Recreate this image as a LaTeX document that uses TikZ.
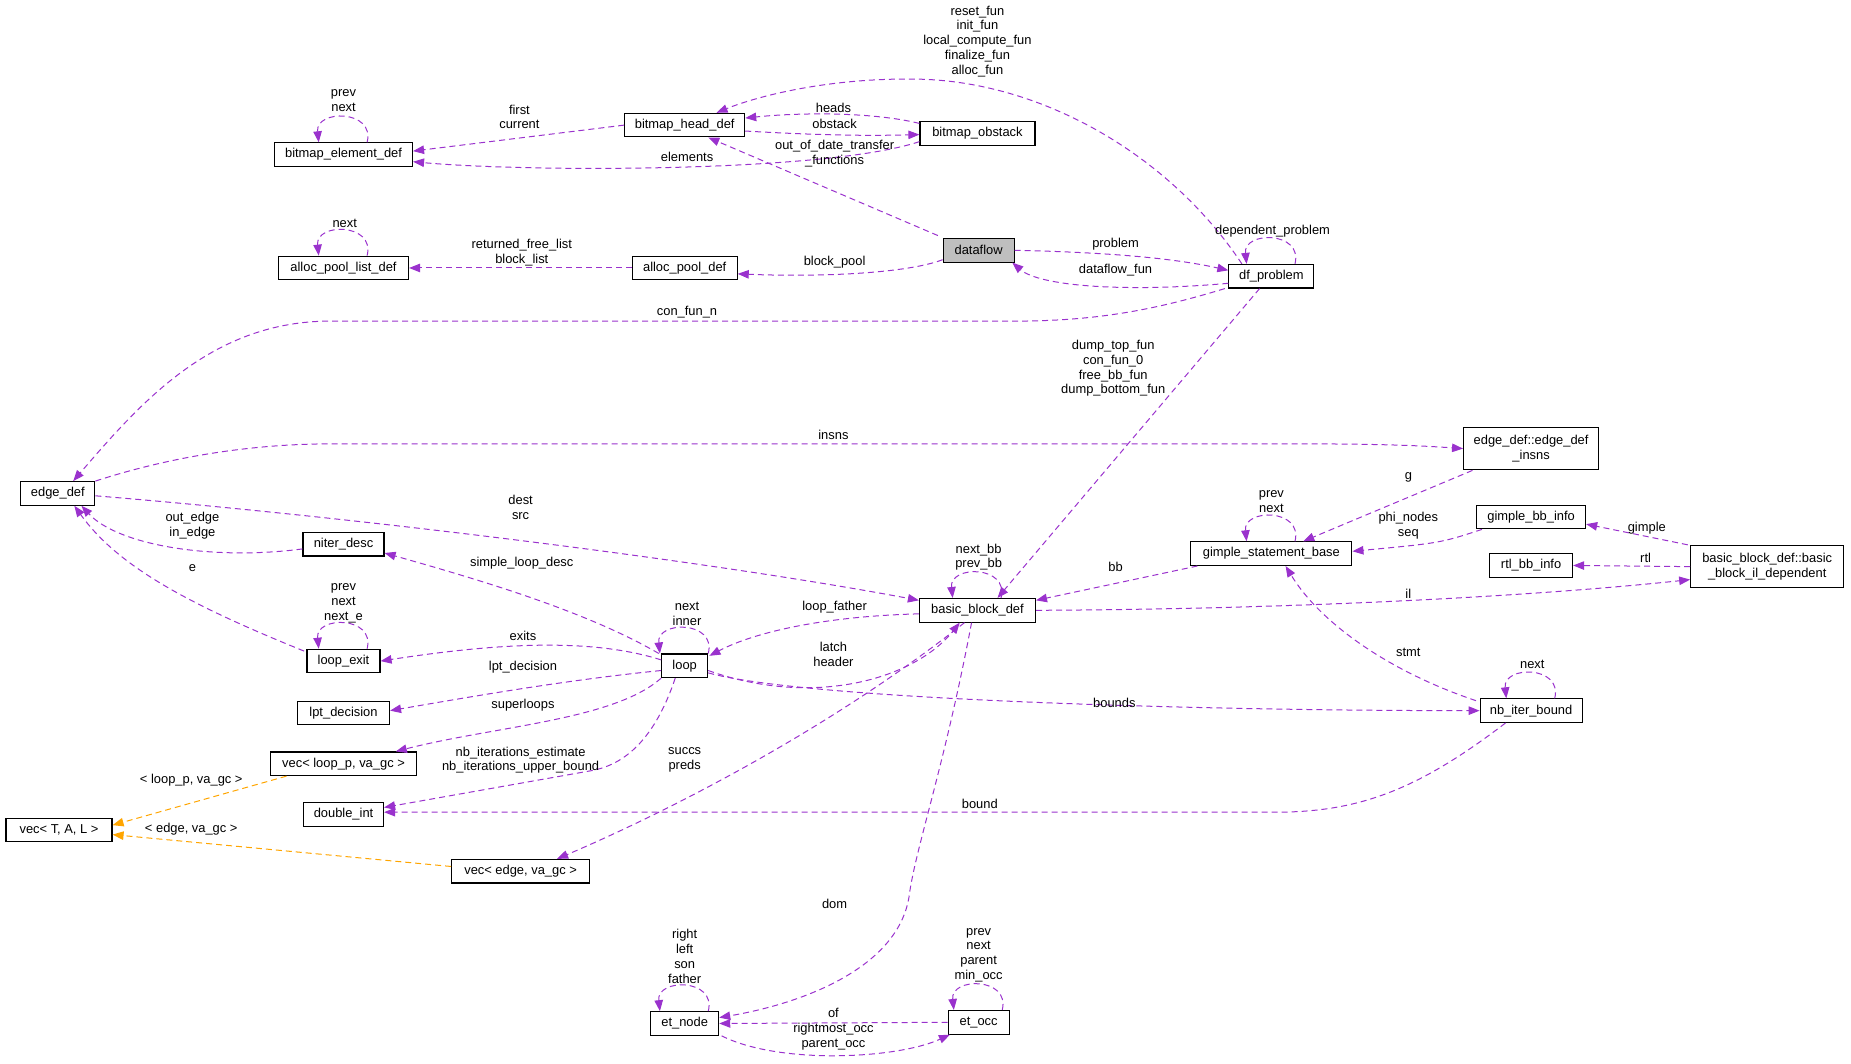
\documentclass[tikz,border=0pt]{standalone}
\usepackage{fontspec}
\setmainfont{Liberation Sans}
\usetikzlibrary{arrows.meta,calc}
\definecolor{rel}{HTML}{9A32CD}
\definecolor{tpl}{HTML}{FFA500}
\definecolor{cur}{HTML}{BFBFBF}
\begin{document}
\begin{tikzpicture}[x=1.1805pt,y=-1.1805pt,
  every node/.style={font=\fontsize{12.9}{14.8}\selectfont, inner sep=1pt},
  cls/.style={draw=black, line width=1.1pt, minimum height=23.6pt, fill=white, align=center},
  lbl/.style={align=center},
  rel/.style={draw=rel, line width=1pt, dash pattern=on 6pt off 4pt, -{Triangle[length=11pt,width=8.5pt]}},
  tplrel/.style={rel, draw=tpl, -{Triangle[length=11pt,width=8.5pt,fill=tpl]}}]
\useasboundingbox (0,0) rectangle (1568,901);
\newcommand\selfloop[1]{\draw[rel] ($(#1.north)+(20,0)$) .. controls ($(#1.north)+(27,-28)$) and ($(#1.north)+(-24,-28)$) .. ($(#1.north)+(-21,0)$);}
% nodes
\node[cls, minimum width=120pt] (bhd) at (580,106) {bitmap\_head\_def};
\node[cls, minimum width=115pt] (bob) at (828,113) {bitmap\_obstack};
\node[cls, minimum width=138pt] (bel) at (291,131) {bitmap\_element\_def};
\node[cls, minimum width=130pt] (apld) at (291,227) {alloc\_pool\_list\_def};
\node[cls, minimum width=105pt] (apd) at (580,227) {alloc\_pool\_def};
\node[cls, minimum width=71pt, fill=cur] (dtf) at (829,212) {dataflow};
\node[cls, minimum width=85pt] (dfp) at (1077,234) {df\_problem};
\node[cls, minimum width=74pt] (edf) at (49,418) {edge\_def};
\node[cls, minimum width=135pt, minimum height=42.5pt] (edi) at (1297,380) {edge\_def::edge\_def\\\_insns};
\node[cls, minimum width=109pt] (gbi) at (1297,438) {gimple\_bb\_info};
\node[cls, minimum width=83pt] (rtl) at (1297,479) {rtl\_bb\_info};
\node[cls, minimum width=153pt, minimum height=42.5pt] (ild) at (1497,480) {basic\_block\_def::basic\\\_block\_il\_dependent};
\node[cls, minimum width=161pt] (gsb) at (1077,469) {gimple\_statement\_base};
\node[cls, minimum width=116pt] (bbd) at (828,517) {basic\_block\_def};
\node[cls, minimum width=81pt] (nid) at (291,461) {niter\_desc};
\node[cls, minimum width=73pt] (lex) at (291,560) {loop\_exit};
\node[cls, minimum width=46pt] (lp) at (580,564) {loop};
\node[cls, minimum width=92pt] (lpt) at (291,604) {lpt\_decision};
\node[cls, minimum width=146pt] (vlp) at (291,647) {vec< loop\_p, va\_gc >};
\node[cls, minimum width=106pt] (vtl) at (50,703) {vec< T, A, L >};
\node[cls, minimum width=80pt] (dbl) at (291,690) {double\_int};
\node[cls, minimum width=138pt] (ved) at (441,738) {vec< edge, va\_gc >};
\node[cls, minimum width=102pt] (nib) at (1297,602) {nb\_iter\_bound};
\node[cls, minimum width=68pt] (etn) at (580,867) {et\_node};
\node[cls, minimum width=61pt] (eto) at (829,866) {et\_occ};
% edges
\draw[rel] (bhd.west) -- ($(bel.east)+(0,-3)$);
\draw[rel] ($(bob.west)+(0,7)$) .. controls (700,146) and (450,146) .. ($(bel.east)+(0,6)$);
\draw[rel] ($(bhd.east)+(0,5)$) .. controls (700,115) and (740,115) .. ($(bob.west)+(0,1)$);
\draw[rel] ($(bob.north west)+(0,2)$) .. controls (740,95) and (680,95) .. ($(bhd.east)+(0,-6)$);
\draw[rel] ($(dfp.north)+(-25,0)$) .. controls (990,130) and (880,68) .. (775,67) .. controls (700,66) and (640,82) .. ($(bhd.north)+(27,0)$);
\draw[rel] ($(dtf.north west)+(-4,-2)$) -- ($(bhd.south)+(20,0)$);
\draw[rel] ($(dtf.west)+(0,8)$) .. controls (770,231) and (700,235) .. ($(apd.east)+(0,5)$);
\draw[rel] (apd.west) -- (apld.east);
\selfloop{apld}
\selfloop{bel}
\draw[rel] (dtf.east) .. controls (950,214) and (1000,220) .. ($(dfp.west)+(0,-5)$);
\draw[rel] ($(dfp.west)+(0,6)$) .. controls (950,248) and (880,242) .. ($(dtf.south east)+(-2,0)$);
\selfloop{dfp}
\draw[rel] ($(dfp.south west)+(-3,0)$) .. controls (980,262) and (930,272) .. (860,272) -- (280,272) .. controls (180,272) and (120,340) .. ($(edf.north)+(13,0)$);
\draw[rel] ($(dfp.south)+(-10,0)$) -- ($(bbd.north)+(17,0)$);
\draw[rel] (edf.north east) .. controls (150,385) and (220,376) .. (280,376) -- (1100,376) .. controls (1180,376) and (1210,378) .. (edi.west);
\draw[rel] ($(edf.east)+(0,2)$) .. controls (300,438) and (600,475) .. ($(bbd.north west)+(0,2)$);
\draw[rel] ($(edi.south west)+(8,0)$) -- ($(gsb.north)+(27,0)$);
\draw[rel] ($(gbi.south west)+(5,0)$) .. controls (1220,460) .. ($(gsb.east)+(0,-2)$);
\draw[rel] ($(ild.north west)+(-2,0)$) -- ($(gbi.east)+(0,6)$);
\draw[rel] (ild.west) -- (rtl.east);
\draw[rel] (bbd.east) .. controls (1100,516) and (1300,505) .. ($(ild.west)+(0,11)$);
\draw[rel] ($(gsb.south west)+(6,0)$) -- ($(bbd.north east)+(0,2)$);
\selfloop{gsb}
\draw[rel] ($(nib.north west)+(-3,2)$) .. controls (1180,570) and (1120,530) .. ($(gsb.south)+(12,0)$);
\selfloop{nib}
\draw[rel] ($(lp.east)+(0,6)$) .. controls (680,592) and (1000,602) .. (nib.west);
\draw[rel] ($(nib.south west)+(22,0)$) .. controls (1200,670) and (1150,688) .. (1080,688) -- ($(dbl.east)+(0,-2)$);
\draw[rel] ($(bbd.west)+(0,3)$) .. controls (700,522) and (640,535) .. ($(lp.north east)+(1,2)$);
\draw[rel] ($(lp.east)+(0,4)$) .. controls (690,600) and (775,575) .. ($(bbd.south)+(-15,0)$);
\selfloop{bbd}
\selfloop{lp}
\draw[rel] ($(lp.north west)+(-2,0)$) .. controls (500,520) and (420,495) .. ($(nid.south east)+(0,-3)$);
\draw[rel] ($(nid.west)+(0,4)$) .. controls (180,475) and (100,462) .. ($(edf.south)+(20,0)$);
\draw[rel] ($(lex.north west)+(-2,2)$) .. controls (160,512) and (100,480) .. ($(edf.south)+(14,0)$);
\selfloop{lex}
\draw[rel] ($(lp.west)+(0,-5)$) .. controls (500,540) and (420,545) .. (lex.east);
\draw[rel] ($(lp.west)+(0,4)$) .. controls (480,576) and (400,590) .. ($(lpt.east)+(0,-2)$);
\draw[rel] (lp.south west) .. controls (520,610) and (420,615) .. ($(vlp.north east)+(-18,0)$);
\draw[rel] ($(lp.south)+(-8,0)$) .. controls (555,625) and (530,648) .. (500,653) -- ($(dbl.east)+(0,-6)$);
\draw[tplrel] ($(vlp.south west)+(14,0)$) -- ($(vtl.east)+(0,-4)$);
\draw[tplrel] ($(ved.west)+(0,-4)$) -- ($(vtl.east)+(0,4)$);
\draw[rel] ($(bbd.south)+(-11,0)$) .. controls (700,620) and (560,690) .. ($(ved.north east)+(-28,0)$);
\draw[rel] ($(bbd.south)+(-5,0)$) .. controls (800,650) and (775,720) .. (770,760) .. controls (760,820) and (680,850) .. ($(etn.east)+(0,-5)$);
\draw[rel] (eto.west) -- (etn.east);
\draw[rel] ($(etn.south east)+(2,0)$) .. controls (660,902) and (760,897) .. ($(eto.south west)+(2,0)$);
\selfloop{etn}
\selfloop{eto}
% labels
\node[lbl] (l1) at (440,99) {first\\current};
\node[lbl] (l2) at (582,133) {elements};
\node[lbl] (l3) at (706,91) {heads};
\node[lbl] (l4) at (707,105) {obstack};
\node[lbl] (l5) at (828,35) {reset\_fun\\init\_fun\\local\_compute\_fun\\finalize\_fun\\alloc\_fun};
\node[lbl] (l6) at (707,130) {out\_of\_date\_transfer\\\_functions};
\node[lbl] (l7) at (291,85) {prev\\next};
\node[lbl] (l8) at (292,189) {next};
\node[lbl] (l9) at (442,214) {returned\_free\_list\\block\_list};
\node[lbl] (l10) at (707,222) {block\_pool};
\node[lbl] (l11) at (945,207) {problem};
\node[lbl] (l12) at (945,229) {dataflow\_fun};
\node[lbl] (l13) at (1078,196) {dependent\_problem};
\node[lbl] (l14) at (582,264) {con\_fun\_n};
\node[lbl] (l15) at (943,312) {dump\_top\_fun\\con\_fun\_0\\free\_bb\_fun\\dump\_bottom\_fun};
\node[lbl] (l16) at (706,368) {insns};
\node[lbl] (l17) at (441,430) {dest\\src};
\node[lbl] (l18) at (1193,404) {g};
\node[lbl] (l19) at (1077,425) {prev\\next};
\node[lbl] (l20) at (1193,445) {phi\_nodes\\seq};
\node[lbl] (l21) at (1395,447) {gimple};
\node[lbl] (l22) at (1394,473) {rtl};
\node[lbl] (l23) at (945,480) {bb};
\node[lbl] (l24) at (1193,503) {il};
\node[lbl] (l25) at (163,445) {out\_edge\\in\_edge};
\node[lbl] (l26) at (163,481) {e};
\node[lbl] (l27) at (442,477) {simple\_loop\_desc};
\node[lbl] (l28) at (829,472) {next\_bb\\prev\_bb};
\node[lbl] (l29) at (582,520) {next\\inner};
\node[lbl] (l30) at (291,511) {prev\\next\\next\_e};
\node[lbl] (l31) at (707,514) {loop\_father};
\node[lbl] (l32) at (443,539) {exits};
\node[lbl] (l33) at (706,554) {latch\\header};
\node[lbl] (l34) at (1193,553) {stmt};
\node[lbl] (l35) at (1298,563) {next};
\node[lbl] (l36) at (443,565) {lpt\_decision};
\node[lbl] (l37) at (443,597) {superloops};
\node[lbl] (l38) at (944,595) {bounds};
\node[lbl] (l39) at (580,644) {succs\\preds};
\node[lbl] (l40) at (441,644) {nb\_iterations\_estimate\\nb\_iterations\_upper\_bound};
\node[lbl] (l41) at (162,661) {< loop\_p, va\_gc >};
\node[lbl] (l42) at (830,681) {bound};
\node[lbl] (l43) at (162,702) {< edge, va\_gc >};
\node[lbl] (l44) at (707,766) {dom};
\node[lbl] (l45) at (580,810) {right\\left\\son\\father};
\node[lbl] (l46) at (829,809) {prev\\next\\parent\\min\_occ};
\node[lbl] (l47) at (706,858) {of};
\node[lbl] (l48) at (706,878) {rightmost\_occ\\parent\_occ};
\end{tikzpicture}
\end{document}
